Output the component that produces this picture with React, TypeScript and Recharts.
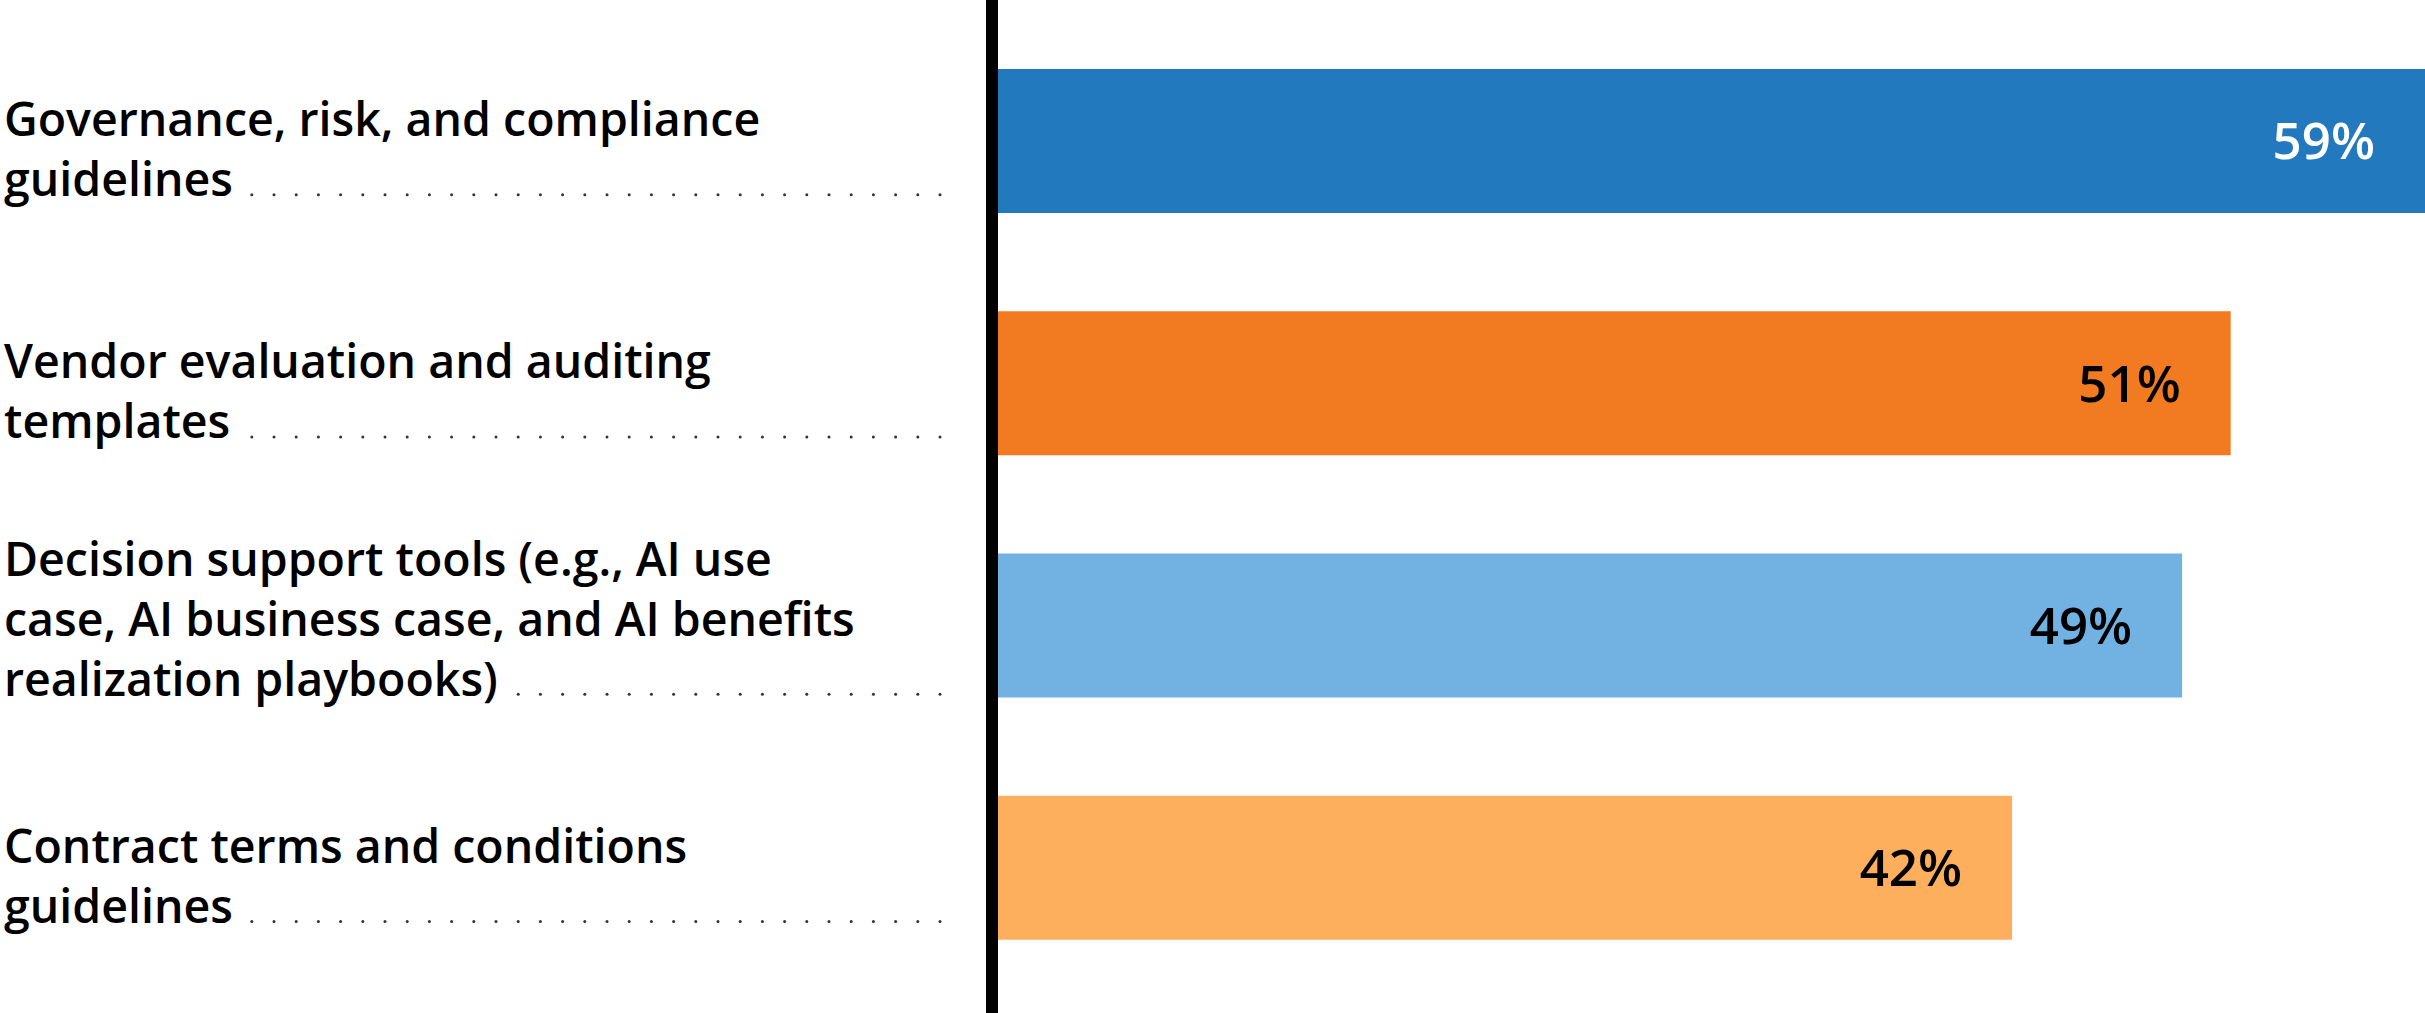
import React, { useLayoutEffect, useRef, useState } from 'react'
import { BarChart, Bar, XAxis, YAxis, Cell, LabelList, ReferenceLine } from 'recharts'

// category labels, already broken into the lines used in the picture
const categoryLines: string[][] = [
  ['Governance, risk, and compliance', 'guidelines'],
  ['Vendor evaluation and auditing', 'templates'],
  ['Decision support tools (e.g., AI use', 'case, AI business case, and AI benefits', 'realization playbooks)'],
  ['Contract terms and conditions', 'guidelines']
]
const categories = categoryLines.map((l) => l.join(' '))
const values = [59, 51, 49, 42]
const barColors = ['#2279bd', '#f27b22', '#71b2e2', '#fdaf5e']
const valueColors = ['#ffffff', '#000000', '#000000', '#000000']

const data = categories.map((name, i) => ({ name, value: values[i] }))

const FONT = '"Open Sans", Lato, sans-serif'

const CategoryTick = (props: any) => {
  const { y, payload } = props
  const idx = categories.indexOf(payload.value)
  const lines = categoryLines[idx] || [payload.value]
  const n = lines.length
  const first = y - 5 - (n - 2) * 45
  const lastRef = useRef<SVGTextElement>(null)
  const [w, setW] = useState(0)

  useLayoutEffect(() => {
    if (lastRef.current) setW(lastRef.current.getComputedTextLength())
  }, [payload.value])

  const lastY = first + (n - 1) * 60
  const dots: number[] = []
  if (w > 0) {
    for (let dx = 940; dx > 4 + w + 8; dx -= 22.2) dots.push(dx)
  }

  return (
    <g>
      {lines.map((line, i) => (
        <text
          key={i}
          ref={i === n - 1 ? lastRef : undefined}
          x={4}
          y={first + i * 60}
          textAnchor='start'
          fontFamily={FONT}
          fontWeight={600}
          fontSize={46.5}
          fill='#000'
        >
          {line}
        </text>
      ))}
      {dots.map((dx, i) => (
        <circle key={i} cx={dx} cy={lastY - 1.5} r={1.5} fill='#333' />
      ))}
    </g>
  )
}

const ValueLabel = (props: any) => {
  const { x, y, width, height, value, index } = props
  return (
    <text
      x={x + width - 50}
      y={y + height / 2}
      dy='0.36em'
      textAnchor='end'
      fontFamily={FONT}
      fontWeight={600}
      fontSize={51}
      fill={valueColors[index]}
    >
      {value}%
    </text>
  )
}

const App = () => {
  return (
    <div>
      <style>{'body{margin:0;background:#fff}'}</style>
      <BarChart
        width={2425}
        height={1013}
        data={data}
        layout='vertical'
        margin={{ top: 0, right: 0, bottom: 0, left: 0 }}
      >
        <XAxis type='number' domain={[0, 59]} hide />
        <YAxis
          type='category'
          dataKey='name'
          width={992}
          axisLine={false}
          tickLine={false}
          padding={{ top: 20, bottom: 24 }}
          tick={(p: any) => <CategoryTick {...p} />}
        />
        <Bar dataKey='value' barSize={144} isAnimationActive={false}>
          {data.map((d, i) => (
            <Cell key={d.name} fill={barColors[i]} />
          ))}
          <LabelList dataKey='value' content={<ValueLabel />} />
        </Bar>
        <ReferenceLine x={0} stroke='#000' strokeWidth={12} />
      </BarChart>
    </div>
  )
}

export default App
